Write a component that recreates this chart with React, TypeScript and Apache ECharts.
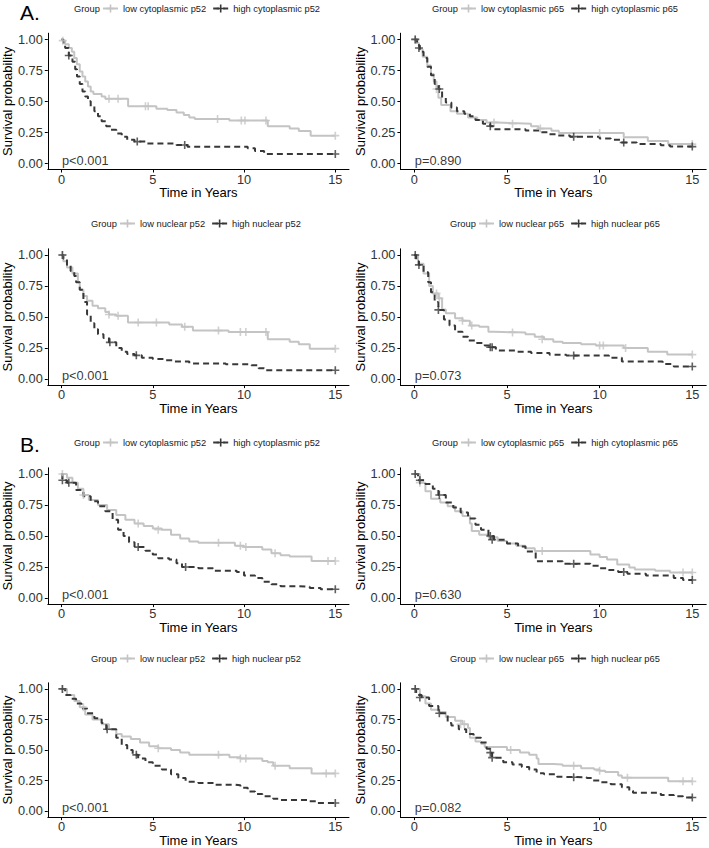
import React, { useEffect, useRef } from 'react';
import * as echarts from 'echarts';

// ---------- axis ticks ----------
const X_TICKS = [0, 5, 10, 15];
const Y_TICKS = [0, 0.25, 0.5, 0.75, 1];

// ---------- Panel A1: cytoplasmic p52 ----------
const aCytoP52Low = [[0,1],[0.07,0.99],[0.2,0.96],[0.4,0.93],[0.57,0.9],[0.7,0.85],[0.84,0.8],[1.0,0.74],[1.15,0.7],[1.3,0.66],[1.45,0.62],[1.6,0.58],[1.75,0.56],[2.2,0.54],[2.4,0.52],[3.65,0.46],[5.2,0.44],[5.8,0.43],[6.3,0.41],[6.7,0.39],[7.0,0.37],[7.3,0.357],[9.2,0.345],[11.3,0.3],[12.5,0.28],[13.0,0.26],[13.65,0.223],[15,0.223]];
const aCytoP52LowCens = [[0.07,0.99],[2.6,0.52],[3.1,0.52],[4.6,0.46],[4.75,0.46],[8.55,0.357],[9.85,0.345],[10.05,0.345],[11.2,0.345],[15,0.223]];
const aCytoP52High = [[0,1],[0.1,0.96],[0.2,0.93],[0.4,0.87],[0.6,0.82],[0.75,0.76],[0.85,0.7],[1.0,0.64],[1.15,0.58],[1.3,0.54],[1.45,0.5],[1.6,0.46],[1.8,0.42],[2.0,0.38],[2.2,0.34],[2.45,0.3],[2.7,0.27],[3.0,0.24],[3.3,0.215],[3.6,0.19],[4.0,0.175],[4.6,0.16],[6.3,0.148],[6.9,0.134],[10.2,0.121],[10.6,0.1],[11.1,0.075],[15,0.075]];
const aCytoP52HighCens = [[0.4,0.87],[4.15,0.175],[6.75,0.148],[15,0.075]];

// ---------- Panel A2: cytoplasmic p65 ----------
const aCytoP65Low = [[0,1],[0.1,0.97],[0.25,0.92],[0.45,0.86],[0.7,0.79],[0.9,0.72],[1.05,0.66],[1.2,0.6],[1.3,0.53],[1.45,0.47],[1.95,0.42],[2.3,0.4],[2.9,0.37],[3.4,0.35],[3.9,0.33],[4.45,0.325],[5.2,0.32],[6.3,0.3],[6.7,0.28],[7.4,0.262],[7.8,0.245],[11.3,0.21],[12.6,0.18],[13.7,0.155],[15,0.155]];
const aCytoP65LowCens = [[0.05,1],[1.2,0.6],[4.3,0.33],[5.3,0.32],[6.8,0.28],[10.0,0.245],[15,0.155]];
const aCytoP65High = [[0,1],[0.15,0.95],[0.3,0.9],[0.5,0.85],[0.7,0.78],[0.9,0.71],[1.1,0.64],[1.3,0.6],[1.5,0.53],[1.7,0.49],[2.0,0.45],[2.3,0.42],[2.7,0.4],[3.0,0.38],[3.3,0.35],[3.7,0.32],[4.1,0.3],[4.3,0.275],[6.0,0.265],[6.8,0.25],[7.2,0.235],[7.7,0.225],[8.4,0.215],[10.0,0.2],[10.6,0.19],[11.1,0.168],[12.0,0.155],[13.3,0.145],[13.8,0.135],[15,0.135]];
const aCytoP65HighCens = [[0.05,1],[0.25,0.93],[1.35,0.6],[4.1,0.3],[8.6,0.215],[11.3,0.168],[15,0.135]];

// ---------- Panel A3: nuclear p52 ----------
const aNucP52Low = [[0,1],[0.1,0.95],[0.3,0.9],[0.6,0.85],[0.9,0.78],[1.0,0.72],[1.2,0.67],[1.4,0.63],[1.7,0.59],[2.0,0.57],[2.4,0.54],[2.6,0.52],[3.0,0.51],[3.64,0.455],[5.9,0.44],[6.6,0.42],[7.2,0.39],[9.15,0.378],[11.3,0.32],[12.5,0.3],[13.0,0.28],[13.6,0.244],[15,0.244]];
const aNucP52LowCens = [[0.05,1],[2.6,0.52],[3.1,0.51],[4.2,0.455],[5.2,0.455],[6.75,0.42],[8.6,0.39],[9.8,0.378],[10.1,0.378],[11.2,0.378],[15,0.244]];
const aNucP52High = [[0,1],[0.1,0.97],[0.3,0.92],[0.5,0.87],[0.7,0.83],[0.8,0.78],[1.0,0.72],[1.2,0.62],[1.4,0.52],[1.6,0.45],[1.8,0.4],[2.0,0.36],[2.3,0.33],[2.6,0.295],[3.0,0.25],[3.3,0.22],[3.6,0.2],[4.0,0.19],[4.4,0.17],[5.0,0.16],[5.7,0.15],[6.2,0.14],[7.0,0.125],[9.0,0.118],[10.4,0.11],[10.8,0.085],[11.1,0.07],[15,0.07]];
const aNucP52HighCens = [[0.05,1],[2.65,0.295],[4.1,0.19],[15,0.07]];

// ---------- Panel A4: nuclear p65 ----------
const aNucP65Low = [[0,1],[0.2,0.93],[0.5,0.85],[0.8,0.75],[1.0,0.69],[1.3,0.65],[1.5,0.56],[1.7,0.53],[2.2,0.49],[2.6,0.47],[3.0,0.43],[3.5,0.42],[4.0,0.38],[4.3,0.375],[6.0,0.36],[6.5,0.34],[7.0,0.32],[7.5,0.3],[8.0,0.29],[9.0,0.28],[9.8,0.27],[11.3,0.25],[12.6,0.22],[13.65,0.196],[15,0.196]];
const aNucP65LowCens = [[1.2,0.69],[1.35,0.65],[2.6,0.47],[3.1,0.43],[5.3,0.375],[6.9,0.32],[10.0,0.27],[10.2,0.27],[11.4,0.25],[15,0.196]];
const aNucP65High = [[0,1],[0.1,0.95],[0.25,0.92],[0.5,0.86],[0.75,0.78],[0.9,0.7],[1.1,0.62],[1.3,0.557],[1.6,0.48],[1.9,0.43],[2.2,0.38],[2.6,0.34],[2.9,0.31],[3.3,0.29],[3.8,0.27],[4.1,0.255],[4.4,0.23],[5.5,0.22],[6.3,0.21],[7.3,0.195],[8.2,0.188],[10.5,0.17],[11.2,0.14],[13.4,0.12],[14.0,0.1],[15,0.1]];
const aNucP65HighCens = [[0.05,1],[0.25,0.92],[1.3,0.557],[4.1,0.255],[4.2,0.255],[8.6,0.188],[15,0.1]];

// ---------- Panel B1: cytoplasmic p52 ----------
const bCytoP52Low = [[0,1],[0.3,0.97],[0.6,0.93],[0.9,0.88],[1.2,0.83],[1.5,0.79],[2.0,0.75],[2.5,0.71],[3.0,0.67],[3.5,0.63],[4.0,0.6],[4.5,0.58],[5.0,0.56],[5.5,0.55],[6.0,0.51],[6.5,0.48],[7.0,0.455],[7.5,0.445],[9.5,0.42],[10.0,0.41],[11.0,0.39],[11.5,0.36],[12.0,0.345],[12.5,0.335],[13.7,0.298],[15,0.298]];
const bCytoP52LowCens = [[0.05,1],[1.2,0.83],[4.2,0.6],[5.3,0.55],[8.6,0.445],[9.8,0.42],[10.1,0.41],[11.7,0.36],[14.6,0.298],[15,0.298]];
const bCytoP52High = [[0,1],[0.05,0.95],[0.3,0.93],[0.8,0.87],[1.2,0.82],[1.6,0.78],[2.0,0.74],[2.4,0.7],[2.8,0.63],[3.1,0.55],[3.4,0.5],[3.7,0.45],[4.0,0.41],[4.6,0.38],[5.0,0.35],[5.3,0.32],[5.9,0.31],[6.3,0.28],[6.6,0.25],[7.5,0.24],[8.3,0.22],[9.6,0.21],[10.0,0.18],[10.6,0.16],[11.0,0.13],[11.5,0.11],[12.0,0.095],[13.0,0.09],[13.6,0.08],[14.2,0.07],[15,0.07]];
const bCytoP52HighCens = [[0.05,0.95],[0.4,0.93],[4.2,0.41],[6.8,0.25],[15,0.07]];

// ---------- Panel B2: cytoplasmic p65 ----------
const bCytoP65Low = [[0,1],[0.3,0.93],[0.6,0.86],[0.9,0.8],[1.4,0.77],[1.8,0.74],[2.2,0.7],[2.6,0.66],[3.0,0.6],[3.1,0.54],[3.5,0.51],[4.0,0.49],[4.5,0.46],[5.0,0.44],[5.5,0.42],[6.0,0.4],[6.5,0.378],[9.5,0.35],[10.0,0.33],[10.4,0.31],[10.95,0.27],[11.6,0.245],[11.9,0.23],[13.0,0.22],[13.8,0.205],[15,0.205]];
const bCytoP65LowCens = [[0.05,1],[0.3,0.93],[6.9,0.378],[14.5,0.205],[15,0.205]];
const bCytoP65High = [[0,1],[0.2,0.95],[0.6,0.92],[1.0,0.88],[1.3,0.83],[1.7,0.77],[2.1,0.73],[2.5,0.69],[2.9,0.64],[3.3,0.59],[3.6,0.55],[4.0,0.5],[4.3,0.47],[5.0,0.44],[5.6,0.415],[6.0,0.375],[6.55,0.295],[8.0,0.275],[9.5,0.26],[10.0,0.24],[10.5,0.225],[11.0,0.21],[11.5,0.195],[12.5,0.18],[14.0,0.16],[14.5,0.145],[15,0.145]];
const bCytoP65HighCens = [[0.05,1],[0.3,0.95],[1.35,0.83],[4.1,0.5],[4.2,0.47],[8.6,0.275],[11.3,0.21],[15,0.145]];

// ---------- Panel B3: nuclear p52 ----------
const bNucP52Low = [[0,1],[0.3,0.95],[0.7,0.9],[1.0,0.85],[1.3,0.79],[1.7,0.75],[2.2,0.71],[2.6,0.67],[3.0,0.63],[3.3,0.61],[3.8,0.59],[4.3,0.56],[4.8,0.53],[5.3,0.514],[6.0,0.5],[6.5,0.48],[7.0,0.46],[9.2,0.44],[9.8,0.43],[11.0,0.41],[11.3,0.4],[11.6,0.37],[12.5,0.35],[13.7,0.308],[15,0.308]];
const bNucP52LowCens = [[0.05,1],[1.2,0.85],[5.3,0.514],[8.6,0.46],[9.8,0.43],[10.1,0.43],[11.7,0.37],[14.5,0.308],[15,0.308]];
const bNucP52High = [[0,1],[0.2,0.95],[0.5,0.92],[0.8,0.88],[1.1,0.84],[1.4,0.8],[1.8,0.76],[2.2,0.72],[2.45,0.67],[3.0,0.6],[3.3,0.54],[3.6,0.5],[3.9,0.46],[4.2,0.43],[4.6,0.4],[5.0,0.37],[5.5,0.34],[6.0,0.3],[6.4,0.27],[6.8,0.24],[7.5,0.23],[8.3,0.215],[9.5,0.21],[9.8,0.19],[10.2,0.16],[10.6,0.14],[11.0,0.12],[11.6,0.1],[12.0,0.09],[13.5,0.08],[14.0,0.065],[15,0.065]];
const bNucP52HighCens = [[0.05,1],[2.5,0.67],[4.1,0.46],[15,0.065]];

// ---------- Panel B4: nuclear p65 ----------
const bNucP65Low = [[0,1],[0.3,0.94],[0.6,0.88],[0.9,0.83],[1.3,0.81],[1.7,0.77],[2.2,0.74],[2.6,0.71],[2.9,0.68],[3.0,0.6],[3.3,0.57],[3.6,0.55],[3.8,0.524],[5.0,0.5],[5.7,0.48],[6.2,0.46],[6.6,0.43],[6.7,0.384],[7.5,0.38],[8.0,0.37],[9.0,0.35],[9.7,0.34],[10.0,0.33],[10.3,0.32],[11.0,0.29],[11.2,0.273],[13.7,0.243],[15,0.243]];
const bNucP65LowCens = [[0.05,1],[2.5,0.71],[2.7,0.71],[5.2,0.5],[8.6,0.37],[10.0,0.33],[11.5,0.273],[14.5,0.243],[15,0.243]];
const bNucP65High = [[0,1],[0.1,0.95],[0.4,0.93],[0.8,0.86],[1.3,0.8],[1.8,0.72],[2.0,0.7],[2.4,0.67],[2.8,0.63],[3.2,0.6],[3.6,0.56],[3.9,0.51],[4.1,0.478],[4.2,0.437],[4.8,0.4],[5.3,0.38],[5.8,0.36],[6.2,0.34],[6.6,0.31],[7.0,0.3],[7.7,0.28],[8.0,0.276],[9.3,0.27],[9.6,0.25],[10.0,0.235],[10.6,0.22],[11.2,0.195],[11.6,0.165],[11.8,0.149],[13.3,0.13],[14.0,0.12],[14.5,0.11],[15,0.11]];
const bNucP65HighCens = [[0.05,1],[0.3,0.93],[1.35,0.8],[4.1,0.478],[4.2,0.437],[8.6,0.276],[15,0.11]];

// ---------- labels ----------
const LOW_LABELS = ['low cytoplasmic p52','low cytoplasmic p65','low nuclear p52','low nuclear p65','low cytoplasmic p52','low cytoplasmic p65','low nuclear p52','low nuclear p65'];
const HIGH_LABELS = ['high cytoplasmic p52','high cytoplasmic p65','high nuclear p52','high nuclear p65','high cytoplasmic p52','high cytoplasmic p65','high nuclear p52','high nuclear p65'];
const P_VALUES = ['p<0.001','p=0.890','p<0.001','p=0.073','p<0.001','p=0.630','p<0.001','p=0.082'];
const P_ANCHOR = [0, 0.025];
const PANEL_TAGS = ['A.', 'B.'];

const LOW_DATA = [aCytoP52Low, aCytoP65Low, aNucP52Low, aNucP65Low, bCytoP52Low, bCytoP65Low, bNucP52Low, bNucP65Low];
const LOW_CENS = [aCytoP52LowCens, aCytoP65LowCens, aNucP52LowCens, aNucP65LowCens, bCytoP52LowCens, bCytoP65LowCens, bNucP52LowCens, bNucP65LowCens];
const HIGH_DATA = [aCytoP52High, aCytoP65High, aNucP52High, aNucP65High, bCytoP52High, bCytoP65High, bNucP52High, bNucP65High];
const HIGH_CENS = [aCytoP52HighCens, aCytoP65HighCens, aNucP52HighCens, aNucP65HighCens, bCytoP52HighCens, bCytoP65HighCens, bNucP52HighCens, bNucP65HighCens];

// ---------- layout ----------
const COL_LEFT = [42, 400.4];
const COL_WIDTH = [307, 305.8];
const ROW_TOP = [33.2, 248.8, 467.8, 682.8];
const ROW_HEIGHT = 136.3;
const LEGEND_Y = [9, 224, 443, 659];
const GROUP_X = [74, 432, 91, 450];
const TAG_Y = [12, 444];

const LIGHT = '#c4c4c4';
const DARK = '#383838';
const FONT = '"Liberation Sans", Arial, Helvetica, sans-serif';
const PLUS = 'path://M4,0H6V4H10V6H6V10H4V6H0V4H4Z';

function buildOption() {
  const grid: any[] = [];
  const xAxis: any[] = [];
  const yAxis: any[] = [];
  const series: any[] = [];
  const legend: any[] = [];
  const graphic: any[] = [];

  for (let i = 0; i < 8; i++) {
    const row = Math.floor(i / 2);
    const col = i % 2;
    grid.push({ left: COL_LEFT[col], top: ROW_TOP[row], width: COL_WIDTH[col], height: ROW_HEIGHT, containLabel: false });
    xAxis.push({
      gridIndex: i, type: 'value', min: -0.75, max: 15.75,
      axisLine: { show: true, onZero: false, lineStyle: { color: '#000', width: 1 } },
      axisTick: { show: true, length: 3, customValues: X_TICKS, lineStyle: { color: '#000', width: 1 } },
      axisLabel: { customValues: X_TICKS, margin: 3, fontSize: 12.8, color: '#333', fontFamily: FONT },
      splitLine: { show: false },
      name: 'Time in Years', nameLocation: 'middle', nameGap: 16,
      nameTextStyle: { fontSize: 13, color: '#000', fontFamily: FONT },
    });
    yAxis.push({
      gridIndex: i, type: 'value', min: -0.05, max: 1.05,
      axisLine: { show: true, onZero: false, lineStyle: { color: '#000', width: 1 } },
      axisTick: { show: true, length: 3, customValues: Y_TICKS, lineStyle: { color: '#000', width: 1 } },
      axisLabel: { customValues: Y_TICKS, margin: 5, fontSize: 12.8, color: '#333', fontFamily: FONT, formatter: (v: number) => v.toFixed(2) },
      splitLine: { show: false },
      name: 'Survival probability', nameLocation: 'middle', nameGap: 27,
      nameTextStyle: { fontSize: 13, color: '#000', fontFamily: FONT },
    });
    series.push({
      type: 'line', name: LOW_LABELS[i], xAxisIndex: i, yAxisIndex: i, step: 'end',
      data: LOW_DATA[i], symbol: PLUS, showSymbol: false, silent: true,
      itemStyle: { color: LIGHT }, lineStyle: { color: LIGHT, width: 2 }, z: 2,
    });
    series.push({
      type: 'line', name: HIGH_LABELS[i], xAxisIndex: i, yAxisIndex: i, step: 'end',
      data: HIGH_DATA[i], symbol: PLUS, showSymbol: false, silent: true,
      itemStyle: { color: DARK }, lineStyle: { color: DARK, width: 2, type: [6, 4] }, z: 3,
    });
    series.push({
      type: 'scatter', name: 'censored low ' + i, xAxisIndex: i, yAxisIndex: i,
      data: LOW_CENS[i], symbol: PLUS, symbolSize: 8, silent: true,
      itemStyle: { color: LIGHT }, z: 4,
    });
    series.push({
      type: 'scatter', name: 'censored high ' + i, xAxisIndex: i, yAxisIndex: i,
      data: HIGH_CENS[i], symbol: PLUS, symbolSize: 8, silent: true,
      itemStyle: { color: DARK }, z: 5,
    });
    series.push({
      type: 'scatter', name: 'pvalue ' + i, xAxisIndex: i, yAxisIndex: i,
      data: [P_ANCHOR], symbol: 'circle', symbolSize: 1, silent: true,
      itemStyle: { color: 'rgba(0,0,0,0)' },
      label: { show: true, position: 'right', distance: 0, offset: [-5, 0], formatter: P_VALUES[i], fontSize: 12.8, color: '#000', fontFamily: FONT },
      labelLayout: { hideOverlap: false },
      z: 6,
    });

    const gx = GROUP_X[(row % 2) * 2 + col];
    graphic.push({
      type: 'text', x: gx, y: LEGEND_Y[row], silent: true,
      style: { text: 'Group', fontSize: 9.3, fill: '#1a1a1a', fontFamily: FONT, verticalAlign: 'middle' },
    });
    legend.push({
      left: gx + 28, top: LEGEND_Y[row] - 5, padding: 0, itemWidth: 15, itemHeight: 10, itemGap: 6,
      selectedMode: false, orient: 'horizontal',
      textStyle: { fontSize: 9.3, color: '#1a1a1a', fontFamily: FONT },
      data: [LOW_LABELS[i], HIGH_LABELS[i]],
    });
  }
  for (let k = 0; k < 2; k++) {
    graphic.push({
      type: 'text', x: 20, y: TAG_Y[k], silent: true,
      style: { text: PANEL_TAGS[k], fontSize: 21, fill: '#000', fontFamily: FONT, verticalAlign: 'middle' },
    });
  }
  return {
    animation: false,
    backgroundColor: '#ffffff',
    textStyle: { fontFamily: FONT },
    grid, xAxis, yAxis, series, legend, graphic,
  };
}

export default function App() {
  const ref = useRef<HTMLDivElement>(null);
  useEffect(() => {
    if (!ref.current) return;
    const chart = echarts.init(ref.current, null, { renderer: 'svg' });
    chart.setOption(buildOption());
    return () => chart.dispose();
  }, []);
  return <div ref={ref} style={{ position: 'absolute', left: 0, top: 0, width: 709, height: 848, background: '#fff' }} />;
}
